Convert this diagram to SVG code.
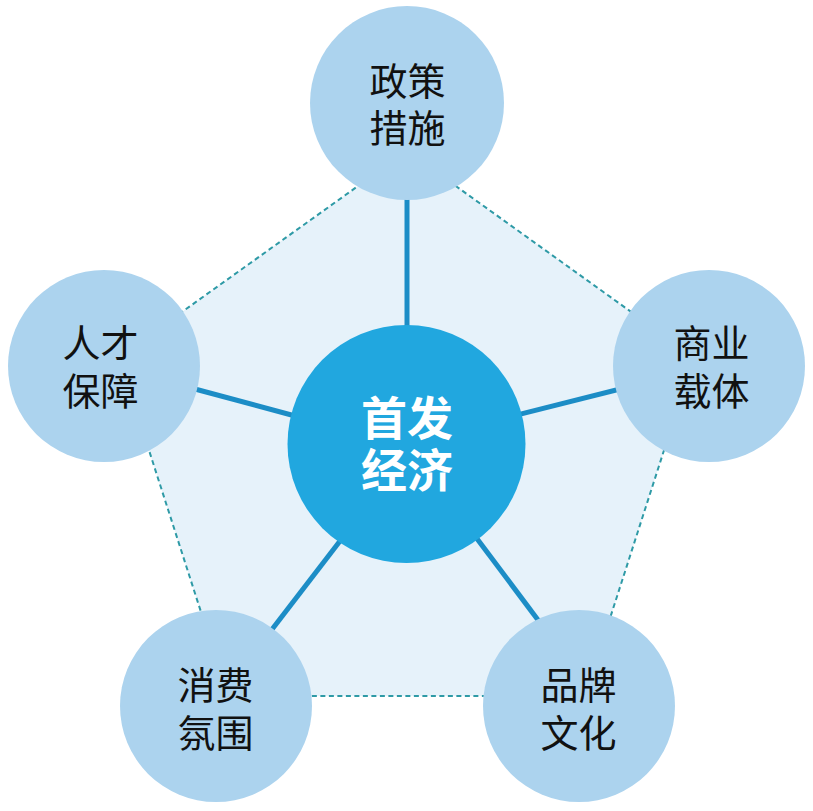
<svg xmlns="http://www.w3.org/2000/svg" width="813" height="811" viewBox="0 0 813 811">
  <style>
    .outer { fill: #acd3ee; }
    .label { font-family: "Noto Sans CJK SC", "Noto Sans", sans-serif; font-size: 38px; fill: #111111; text-anchor: middle; }
    .clabel { font-family: "Noto Sans CJK SC", "Noto Sans", sans-serif; font-size: 46px; font-weight: bold; fill: #ffffff; text-anchor: middle; }
    .conn { stroke: #1c8dc6; stroke-width: 5; stroke-linecap: butt; fill: none; }
    .pent { fill: #e6f2fa; stroke: #2e9aa6; stroke-width: 2; stroke-dasharray: 5 3.5; }
  </style>
  <rect width="813" height="811" fill="#ffffff"/>
  <g id="frame">
    <polygon class="pent" points="407,151 694,357 585,696 228,696 119,357"/>
  </g>
  <g id="connectors">
    <line class="conn" x1="407" y1="190" x2="407" y2="340"/>
    <line class="conn" x1="180" y1="385" x2="310" y2="420"/>
    <line class="conn" x1="505" y1="418" x2="640" y2="384"/>
    <line class="conn" x1="350" y1="528" x2="260" y2="645"/>
    <line class="conn" x1="466" y1="524" x2="556" y2="644"/>
  </g>
  <g id="node-center">
    <circle cx="406.5" cy="444" r="119" fill="#21a7df"/>
    <text class="clabel"><tspan x="407" y="435">首发</tspan><tspan x="407" y="487">经济</tspan></text>
  </g>
  <g id="node-top">
    <circle class="outer" cx="407" cy="103" r="97"/>
    <text class="label"><tspan x="407.5" y="95">政策</tspan><tspan x="407.5" y="142">措施</tspan></text>
  </g>
  <g id="node-left">
    <circle class="outer" cx="104" cy="366" r="96"/>
    <text class="label"><tspan x="100.5" y="357">人才</tspan><tspan x="100.5" y="405">保障</tspan></text>
  </g>
  <g id="node-right">
    <circle class="outer" cx="709" cy="366" r="96"/>
    <text class="label"><tspan x="711.5" y="357">商业</tspan><tspan x="711.5" y="405">载体</tspan></text>
  </g>
  <g id="node-bottom-left">
    <circle class="outer" cx="216" cy="706" r="96"/>
    <text class="label"><tspan x="215.5" y="699">消费</tspan><tspan x="215.5" y="747">氛围</tspan></text>
  </g>
  <g id="node-bottom-right">
    <circle class="outer" cx="579" cy="706" r="96"/>
    <text class="label"><tspan x="578.5" y="699">品牌</tspan><tspan x="578.5" y="747">文化</tspan></text>
  </g>
</svg>
